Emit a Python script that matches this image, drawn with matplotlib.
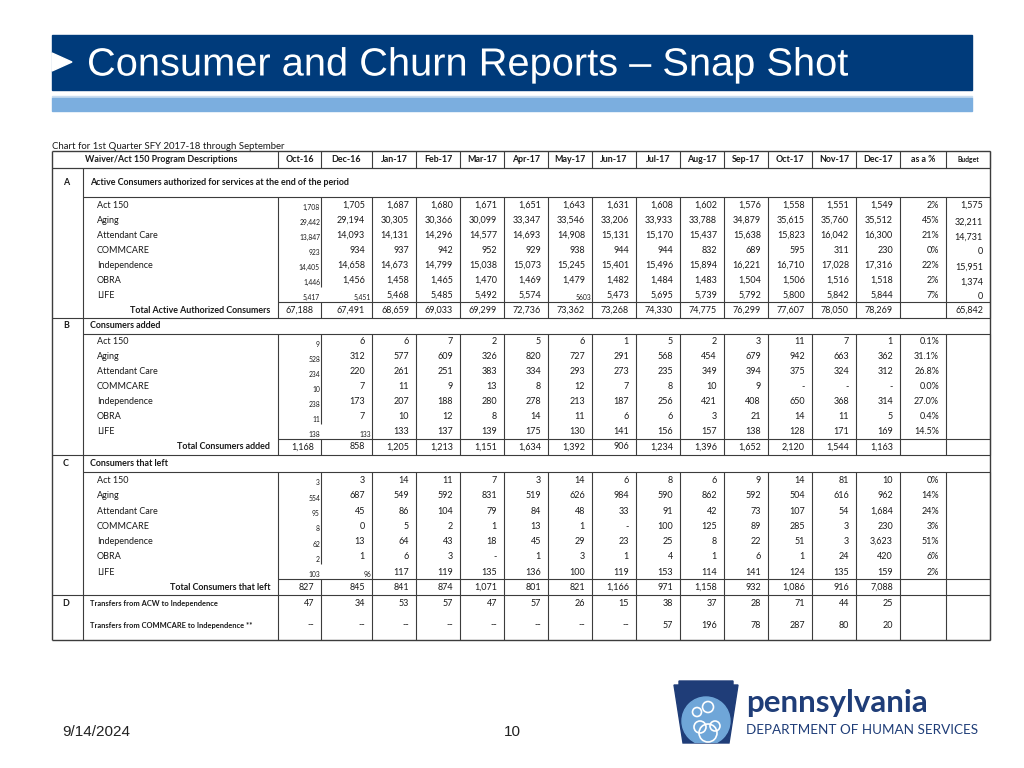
import matplotlib
matplotlib.use("Agg")
import matplotlib.pyplot as plt
from matplotlib.patches import Rectangle, Polygon, Circle, PathPatch
from matplotlib.textpath import TextPath
from matplotlib.font_manager import FontProperties
from matplotlib.transforms import Affine2D

# ---- data ----
months = ["Oct-16", "Dec-16", "Jan-17", "Feb-17", "Mar-17", "Apr-17", "May-17", "Jun-17",
          "Jul-17", "Aug-17", "Sep-17", "Oct-17", "Nov-17", "Dec-17"]
programs = ["Act 150", "Aging", "Attendant Care", "COMMCARE", "Independence", "OBRA", "LIFE"]

# A - active consumers at end of period
active_counts = [
    [1708, 1705, 1687, 1680, 1671, 1651, 1643, 1631, 1608, 1602, 1576, 1558, 1551, 1549],
    [29442, 29194, 30305, 30366, 30099, 33347, 33546, 33206, 33933, 33788, 34879, 35615, 35760, 35512],
    [13847, 14093, 14131, 14296, 14577, 14693, 14908, 15131, 15170, 15437, 15638, 15823, 16042, 16300],
    [923, 934, 937, 942, 952, 929, 938, 944, 944, 832, 689, 595, 311, 230],
    [14405, 14658, 14673, 14799, 15038, 15073, 15245, 15401, 15496, 15894, 16221, 16710, 17028, 17316],
    [1446, 1456, 1458, 1465, 1470, 1469, 1479, 1482, 1484, 1483, 1504, 1506, 1516, 1518],
    [5417, 5451, 5468, 5485, 5492, 5574, 5603, 5473, 5695, 5739, 5792, 5800, 5842, 5844],
]
active_totals = [67188, 67491, 68659, 69033, 69299, 72736, 73362, 73268, 74330, 74775, 76299, 77607, 78050, 78269]
active_pct = [2, 45, 21, 0, 22, 2, 7]
active_budget = [1575, 32211, 14731, 0, 15951, 1374, 0]
active_budget_total = 65842

# B - consumers added
added_counts = [
    [9, 6, 6, 7, 2, 5, 6, 1, 5, 2, 3, 11, 7, 1],
    [528, 312, 577, 609, 326, 820, 727, 291, 568, 454, 679, 942, 663, 362],
    [234, 220, 261, 251, 383, 334, 293, 273, 235, 349, 394, 375, 324, 312],
    [10, 7, 11, 9, 13, 8, 12, 7, 8, 10, 9, None, None, None],
    [238, 173, 207, 188, 280, 278, 213, 187, 256, 421, 408, 650, 368, 314],
    [11, 7, 10, 12, 8, 14, 11, 6, 6, 3, 21, 14, 11, 5],
    [138, 133, 133, 137, 139, 175, 130, 141, 156, 157, 138, 128, 171, 169],
]
added_totals = [1168, 858, 1205, 1213, 1151, 1634, 1392, 906, 1234, 1396, 1652, 2120, 1544, 1163]
added_pct = [0.1, 31.1, 26.8, 0.0, 27.0, 0.4, 14.5]

# C - consumers that left
left_counts = [
    [3, 3, 14, 11, 7, 3, 14, 6, 8, 6, 9, 14, 81, 10],
    [554, 687, 549, 592, 831, 519, 626, 984, 590, 862, 592, 504, 616, 962],
    [95, 45, 86, 104, 79, 84, 48, 33, 91, 42, 73, 107, 54, 1684],
    [8, 0, 5, 2, 1, 13, 1, None, 100, 125, 89, 285, 3, 230],
    [62, 13, 64, 43, 18, 45, 29, 23, 25, 8, 22, 51, 3, 3623],
    [2, 1, 6, 3, None, 1, 3, 1, 4, 1, 6, 1, 24, 420],
    [103, 96, 117, 119, 135, 136, 100, 119, 153, 114, 141, 124, 135, 159],
]
left_totals = [827, 845, 841, 874, 1071, 801, 821, 1166, 971, 1158, 932, 1086, 916, 7088]
left_pct = [0, 14, 24, 3, 51, 6, 2]

# D - transfers
acw_transfers = [47, 34, 53, 57, 47, 57, 26, 15, 38, 37, 28, 71, 44, 25]
commcare_transfers = [None] * 8 + [57, 196, 78, 287, 80, 20]

# ---- layout ----
FONT = "Lato"
LINE = "#3c3c3c"
TXT = "#1a1a1a"
X0, XL, XD, XR = 52, 83, 278, 990
edges = [278, 321, 372, 416, 460, 504, 548, 592, 636, 680, 724, 768, 812, 856, 900, 946, 990]

fig = plt.figure(figsize=(10.24, 7.68), dpi=100)
ax = fig.add_axes([0, 0, 1, 1])
ax.set_xlim(0, 1024)
ax.set_ylim(768, 0)
ax.axis("off")


def hline(y, x0, x1, lw=0.8, color=LINE):
    ax.plot([x0, x1], [y, y], color=color, lw=lw, solid_capstyle="butt")


def vline(x, y0, y1, lw=0.8, color=LINE):
    ax.plot([x, x], [y0, y1], color=color, lw=lw, solid_capstyle="butt")


def num(v, dash="-"):
    return dash if v is None else f"{v:,}"


def cell(col, y, s, small=False, bold=False):
    if small:
        ax.text(edges[col + 1] - 1, y + 2.5, s, ha="right", va="center", fontsize=4.9,
                family=FONT, color=TXT)
    else:
        ax.text(edges[col + 1] - 7, y, s, ha="right", va="center", fontsize=6.5,
                family=FONT, color=TXT, fontweight="bold" if bold else "normal")


def fitted_text(s, x0, x1, baseline, cap_h, family, color, weight="normal"):
    # text drawn as a path, scaled to span x0..x1 with given cap height
    prop = FontProperties(family=family, weight=weight)
    cap = TextPath((0, 0), "H", size=1, prop=prop).get_extents().height
    path = TextPath((0, 0), s, size=1, prop=prop)
    ext = path.get_extents()
    sy = cap_h / cap
    sx = (x1 - x0) / ext.width
    tr = Affine2D().translate(-ext.x0, 0).scale(sx, -sy).translate(x0, baseline)
    ax.add_patch(PathPatch(path, transform=tr + ax.transData, color=color, lw=0, zorder=3))


# title banner
ax.add_patch(Rectangle((52, 35), 920, 55, color="#003B7B", zorder=1))
ax.add_patch(Polygon([(52, 53), (72, 62), (52, 71)], color="white", zorder=2))
fitted_text("Consumer and Churn Reports \u2013 Snap Shot", 89, 848, 75.5, 27,
            "Liberation Sans", "white")
ax.add_patch(Rectangle((52, 95.5), 920, 2, color="#C9DDF0", zorder=1))
ax.add_patch(Rectangle((52, 97.5), 920, 13.5, color="#7BAEDF", zorder=1))

ax.text(52, 146.5, "Chart for 1st Quarter SFY 2017-18 through September", fontsize=6.9,
        family=FONT, color=TXT, va="center")

# header row
top = 151
hline(top, X0, XR, lw=1.0)
hline(168, X0, XR)
for x in edges:
    vline(x, top, 168)
ax.text(161, 159.5, "Waiver/Act 150 Program Descriptions", ha="center", va="center",
        fontsize=6.4, family=FONT, fontweight="bold", color=TXT)
headers = months + ["as a %", "Budget"]
for i, h in enumerate(headers):
    ax.text((edges[i] + edges[i + 1]) / 2, 159.5, h, ha="center", va="center",
            fontsize=4.9 if h == "Budget" else 6.4, family=FONT, fontweight="bold", color=TXT)


def section(y_top, title_h, row_h, letter, title, counts, totals, pct, pct_fmt,
            total_label, budget=None, budget_total=None, small=()):
    y_rows = y_top + title_h
    y_tot = y_rows + row_h * len(programs)
    y_end = y_tot + 16
    hline(y_top, X0, XR)
    hline(y_rows, XL, XR)
    hline(y_tot, XD, XR)
    vline(XL, y_top, y_end)
    vline(XD, y_rows, y_end)
    for x in edges[1:]:
        if x == 321:
            vline(x, y_rows, y_rows + row_h * 6)
            vline(x, y_tot, y_end)
        else:
            vline(x, y_rows, y_end)
    yc = y_top + title_h / 2
    ax.text(66, yc, letter, ha="center", va="center", fontsize=6.4, family=FONT,
            fontweight="bold", color=TXT)
    ax.text(90, yc, title, ha="left", va="center", fontsize=6.4, family=FONT,
            fontweight="bold", color=TXT)
    for r, name in enumerate(programs):
        y = y_rows + row_h * (r + 0.55)
        ax.text(97, y, name, ha="left", va="center", fontsize=6.5, family=FONT, color=TXT)
        for c, v in enumerate(counts[r]):
            is_small = c == 0 or (r, c) in small
            s = num(v)
            if (r, c) == (6, 6) and letter == "A":
                s = str(v)
            cell(c, y, s, small=is_small)
        cell(14, y, format(pct[r], pct_fmt) + "%")
        if budget is not None:
            cell(15, y + (0 if r == 0 else 1.5), num(budget[r]))
    yt = y_tot + 8.3
    ax.text(270, yt, total_label, ha="right", va="center", fontsize=6.4, family=FONT,
            fontweight="bold", color=TXT)
    for c, v in enumerate(totals):
        cell(c, yt, num(v))
    if budget_total is not None:
        cell(15, yt, num(budget_total))
    return y_end


yB = section(168, 29, 15.0, "A", "Active Consumers authorized for services at the end of the period",
             active_counts, active_totals, active_pct, ".0f", "Total Active Authorized Consumers",
             active_budget, active_budget_total, small={(6, 1), (6, 6)})
yC = section(yB, 15.5, 15.0, "B", "Consumers added", added_counts, added_totals, added_pct,
             ".1f", "Total Consumers added", small={(6, 1)})
yD = section(yC, 17.5, 15.3, "C", "Consumers that left", left_counts, left_totals, left_pct,
             ".0f", "Total Consumers that left", small={(6, 1)})

# D block
y_end = yD + 44.5
hline(yD, X0, XR)
vline(XL, yD, y_end)
for x in edges:
    vline(x, yD, y_end)
ax.text(66, yD + 8.5, "D", ha="center", va="center", fontsize=6.4, family=FONT,
        fontweight="bold", color=TXT)
ax.text(90, yD + 8.5, "Transfers from ACW to Independence", ha="left", va="center",
        fontsize=5.4, family=FONT, fontweight="bold", color=TXT)
ax.text(90, yD + 30, "Transfers from COMMCARE to Independence **", ha="left", va="center",
        fontsize=5.4, family=FONT, fontweight="bold", color=TXT)
for c in range(len(months)):
    cell(c, yD + 8.5, num(acw_transfers[c]))
    cell(c, yD + 30, num(commcare_transfers[c], dash="--"))

# outer border
hline(y_end, X0, XR, lw=1.0)
vline(X0, top, y_end, lw=1.0)
vline(XR, top, y_end, lw=1.0)

# footer
ax.text(62, 732, "9/14/2024", fontsize=11, family="Liberation Sans", color="#222222", va="center")
ax.text(512.5, 732, "10", fontsize=11, family="Liberation Sans", color="#222222", va="center",
        ha="center")

# logo
navy = "#1F3D78"
stone = Polygon([(679, 681), (733, 681), (733, 685), (738, 685), (729, 743), (683, 743),
                 (674, 685), (679, 685)], color=navy, zorder=2)
ax.add_patch(stone)
body = Circle((706, 721), 24, color="#6FA6D8", zorder=3)
ax.add_patch(body)
body.set_clip_path(stone)
for (cx, cy, r) in [(697, 712, 4.5), (708, 707, 5.5), (715, 726, 5), (700, 727, 6), (708, 733, 9)]:
    ring = Circle((cx, cy), r, fill=False, ec="white", lw=1.2, zorder=4)
    ax.add_patch(ring)
    ring.set_clip_path(stone)
ax.text(746, 703, "pennsylvania", fontsize=22.5, family="Lato", fontweight="bold", color=navy,
        va="center", ha="left")
ax.text(746, 730, "DEPARTMENT OF HUMAN SERVICES", fontsize=9.7, family="Lato", color=navy,
        va="center", ha="left")

fig.savefig("out.png", dpi=100)
